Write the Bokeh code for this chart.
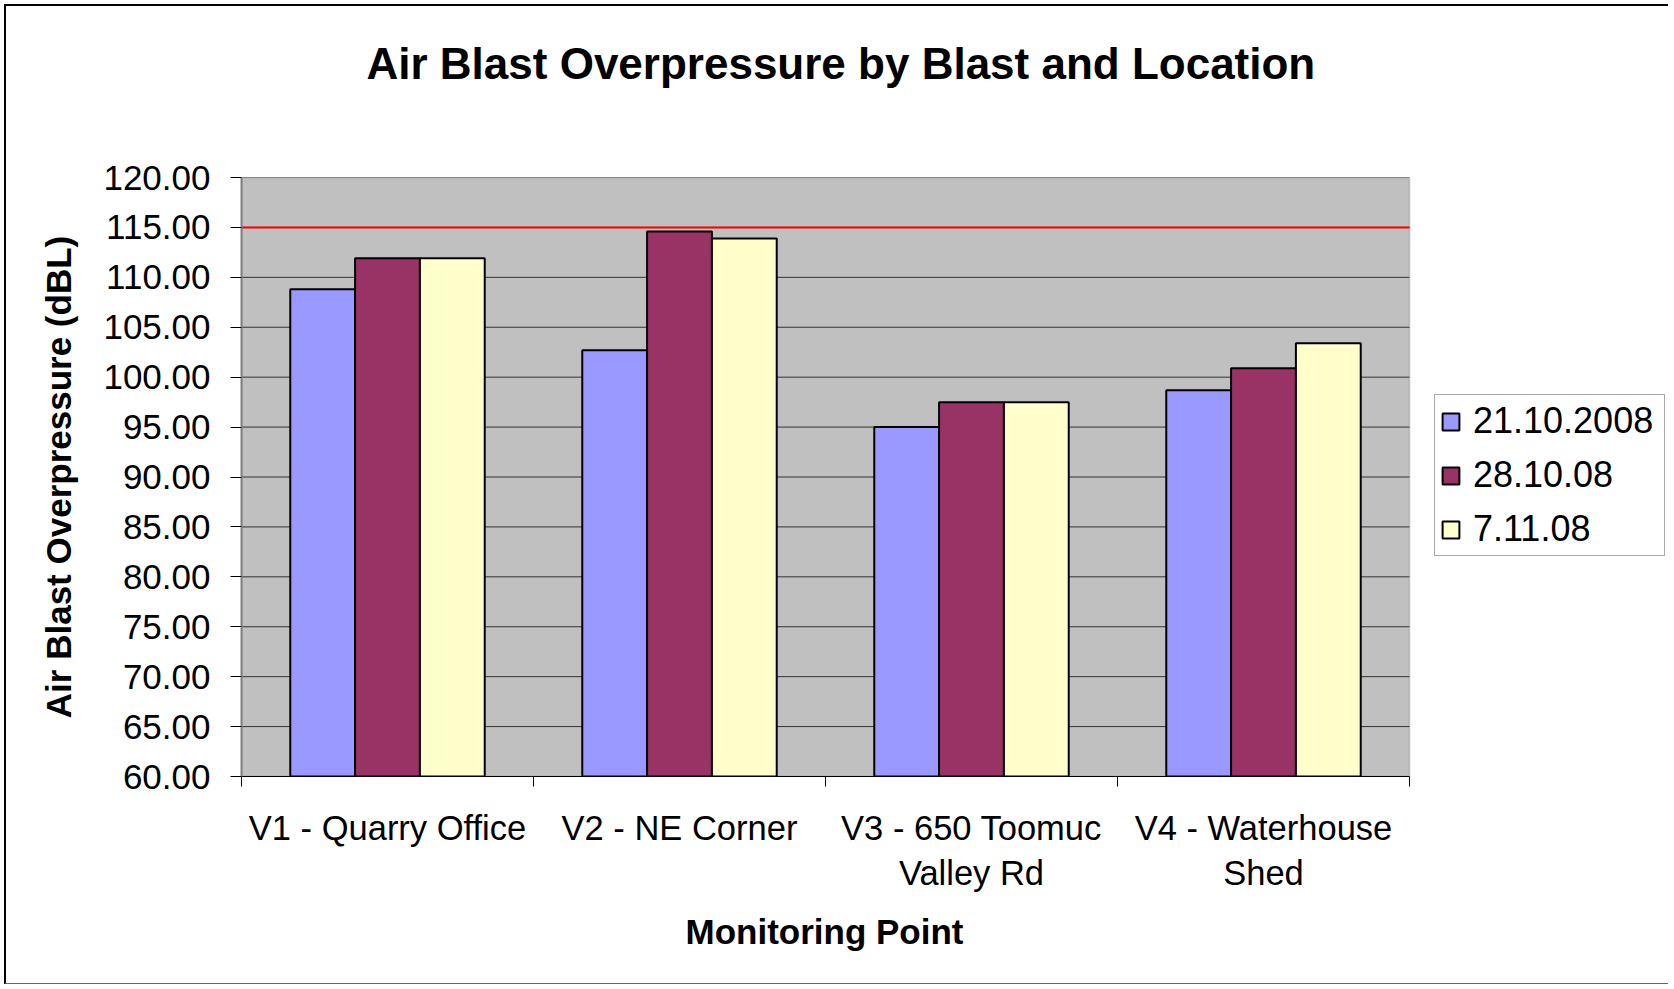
from bokeh.plotting import figure
from bokeh.models import (Range1d, FixedTicker, PrintfTickFormatter, Legend,
                          LegendItem, ColumnDataSource, Title, BoxAnnotation)
from bokeh.transform import dodge
from bokeh.embed import file_html
from bokeh.resources import INLINE

# ---- data ----
categories = ["V1 - Quarry Office", "V2 - NE Corner",
              "V3 - 650 Toomuc\nValley Rd", "V4 - Waterhouse\nShed"]
series_names = ["21.10.2008", "28.10.08", "7.11.08"]
blast_21_10_2008 = [108.8, 102.7, 95.0, 98.7]
blast_28_10_08 = [111.9, 114.6, 97.5, 100.9]
blast_7_11_08 = [111.9, 113.9, 97.5, 103.4]
limit_dbl = 115.0
y_ticks = [60, 65, 70, 75, 80, 85, 90, 95, 100, 105, 110, 115, 120]
series_colors = ["#9999FF", "#993366", "#FFFFCC"]

FONT = "Liberation Sans"

# ---- layout (pixels) ----
CANVAS_W, CANVAS_H = 1664, 980
BORDER_L, BORDER_T, BORDER_B = 235, 171, 210
PLOT_W = 1168                      # width of the grey plot area
FRAME_W = CANVAS_W - BORDER_L      # frame extends to the right edge (legend lives there)
n_cat = len(categories)
x_end = n_cat * FRAME_W / PLOT_W

centers = [i + 0.5 for i in range(n_cat)]
source = ColumnDataSource(dict(x=centers, s0=blast_21_10_2008,
                               s1=blast_28_10_08, s2=blast_7_11_08))

p = figure(width=CANVAS_W, height=CANVAS_H, output_backend="svg", toolbar_location=None,
           x_range=Range1d(0, x_end), y_range=Range1d(y_ticks[0], y_ticks[-1]),
           min_border_left=BORDER_L, min_border_right=0, min_border_top=BORDER_T,
           min_border_bottom=BORDER_B)
p.styles = {"margin-left": "4px", "margin-top": "4px",
            "border-left": "2px solid black", "border-top": "2px solid black",
            "border-bottom": "1px solid #666666"}

p.background_fill_color = "white"
p.border_fill_color = "white"
p.outline_line_color = None

# grey plot area limited to the categories
p.add_layout(BoxAnnotation(left=0, right=n_cat, bottom=y_ticks[0], top=y_ticks[-1],
                           fill_color="#C0C0C0", fill_alpha=1.0,
                           line_color="#808080", line_width=2, level="image"))

# horizontal gridlines, limited to the plot area (drawn before the bars)
p.xgrid.visible = False
p.ygrid.visible = False
p.segment(x0=[0] * len(y_ticks), x1=[n_cat] * len(y_ticks), y0=y_ticks, y1=y_ticks,
          line_color="#333333", line_width=1)

bar_w = 0.222
renderers = []
for k, (field, col) in enumerate(zip(["s0", "s1", "s2"], series_colors)):
    r = p.vbar(x=dodge("x", (k - 1) * bar_w, range=p.x_range), top=field,
               bottom=y_ticks[0], width=bar_w, source=source,
               fill_color=col, line_color="black", line_width=2)
    renderers.append(r)

# limit line
p.segment(x0=[0], x1=[n_cat], y0=[limit_dbl], y1=[limit_dbl],
          line_color="#FF0000", line_width=2)

# y axis
ya = p.yaxis[0]
ya.ticker = FixedTicker(ticks=y_ticks)
ya.formatter = PrintfTickFormatter(format="%.2f")
ya.axis_label = "Air Blast Overpressure (dBL)"
ya.axis_label_text_font = FONT
ya.axis_label_text_font_style = "bold"
ya.axis_label_text_font_size = "35px"
ya.axis_label_text_color = "black"
ya.axis_label_standoff = 22
ya.major_label_text_font = FONT
ya.major_label_text_font_size = "35px"
ya.major_label_text_color = "black"
ya.major_label_standoff = 20
ya.major_tick_out = 11
ya.major_tick_in = 0
ya.major_tick_line_color = "black"
ya.minor_tick_line_color = None
ya.axis_line_color = "#808080"
ya.axis_line_width = 2

# x axis
xa = p.xaxis[0]
xa.bounds = (0, n_cat)
xa.ticker = FixedTicker(ticks=centers, minor_ticks=list(range(n_cat + 1)))
xa.major_label_overrides = {c: lab for c, lab in zip(centers, categories)}
xa.major_tick_out = 0
xa.major_tick_in = 0
xa.minor_tick_out = 10
xa.minor_tick_in = 0
xa.minor_tick_line_color = "black"
xa.axis_line_color = "black"
xa.major_label_text_font = FONT
xa.major_label_text_font_size = "34.5px"
xa.major_label_text_color = "black"
xa.major_label_text_line_height = 1.19
xa.major_label_standoff = 22

# x axis title, centred under the plot area (not the whole frame)
p.add_layout(Title(text="Monitoring Point", align="left", offset=444, standoff=30,
                   text_font=FONT, text_font_size="35px", text_font_style="bold",
                   text_color="black"), "below")

# titles: an empty spacer title next to the frame, the real title above it
p.add_layout(Title(text=" ", text_font_size="10px", standoff=77), "above")
p.add_layout(Title(text="Air Blast Overpressure by Blast and Location", align="left",
                   offset=125, standoff=0, text_font=FONT, text_font_size="44px",
                   text_font_style="bold", text_color="black"), "above")

legend = Legend(items=[LegendItem(label=n, renderers=[r])
                       for n, r in zip(series_names, renderers)],
                location=(1193, 220), orientation="vertical",
                label_text_font=FONT, label_text_font_size="36px",
                label_text_color="black", glyph_width=21, glyph_height=21,
                label_standoff=12, label_height=34, label_width=186,
                spacing=12, padding=5,
                border_line_color="#555555", border_line_width=1,
                background_fill_color="white", background_fill_alpha=1.0)
p.add_layout(legend)

open("out.html", "w").write(file_html(p, INLINE))
